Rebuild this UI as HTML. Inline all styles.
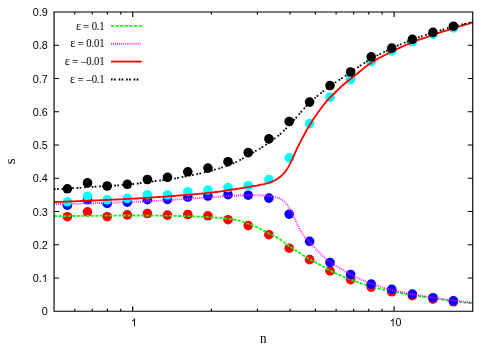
<!DOCTYPE html>
<html><head><meta charset="utf-8"><title>plot</title>
<style>
html,body{margin:0;padding:0;background:#fff;}
svg{display:block;will-change:transform;}
text{font-family:"Liberation Sans",sans-serif;fill:#000;}
.ser{font-family:"Liberation Serif",serif;}
</style></head><body>
<svg width="491" height="344" viewBox="0 0 491 344">
<rect width="491" height="344" fill="#fff"/>

<defs><clipPath id="c"><rect x="54.05" y="11.95" width="418.7" height="299.3"/></clipPath></defs>
<g clip-path="url(#c)">
<circle cx="67.4" cy="216.7" r="4.8" fill="#ff0000"/><circle cx="87.5" cy="211.8" r="4.8" fill="#ff0000"/><circle cx="107.2" cy="216.7" r="4.8" fill="#ff0000"/><circle cx="127.3" cy="214.9" r="4.8" fill="#ff0000"/><circle cx="147.4" cy="213.5" r="4.8" fill="#ff0000"/><circle cx="167.5" cy="215.1" r="4.8" fill="#ff0000"/><circle cx="187.8" cy="214.5" r="4.8" fill="#ff0000"/><circle cx="207.9" cy="215.8" r="4.8" fill="#ff0000"/><circle cx="228.0" cy="219.7" r="4.8" fill="#ff0000"/><circle cx="248.2" cy="225.6" r="4.8" fill="#ff0000"/><circle cx="268.9" cy="234.7" r="4.8" fill="#ff0000"/><circle cx="289.2" cy="248.2" r="4.8" fill="#ff0000"/><circle cx="309.6" cy="259.6" r="4.8" fill="#ff0000"/><circle cx="330.0" cy="270.9" r="4.8" fill="#ff0000"/><circle cx="350.6" cy="279.6" r="4.8" fill="#ff0000"/><circle cx="371.2" cy="287.1" r="4.8" fill="#ff0000"/><circle cx="391.8" cy="291.8" r="4.8" fill="#ff0000"/><circle cx="412.4" cy="295.7" r="4.8" fill="#ff0000"/><circle cx="433.0" cy="299.0" r="4.8" fill="#ff0000"/><circle cx="453.4" cy="301.8" r="4.8" fill="#ff0000"/>
<path d="M54.0,216.2 L55.5,216.2 L57.0,216.2 L58.5,216.1 L60.0,216.1 L61.5,216.1 L63.0,216.1 L64.5,216.1 L66.0,216.1 L67.5,216.1 L69.0,216.0 L70.5,216.0 L72.0,216.0 L73.5,216.0 L75.0,216.0 L76.5,216.0 L78.0,215.9 L79.5,215.9 L81.0,215.9 L82.5,215.9 L84.0,215.9 L85.5,215.9 L87.0,215.9 L88.5,215.8 L90.0,215.8 L91.5,215.8 L93.0,215.8 L94.5,215.8 L96.0,215.8 L97.5,215.8 L99.0,215.8 L100.5,215.7 L102.0,215.7 L103.5,215.7 L105.0,215.7 L106.5,215.7 L108.0,215.7 L109.5,215.6 L111.0,215.6 L112.5,215.6 L114.0,215.6 L115.5,215.6 L117.0,215.6 L118.5,215.6 L120.0,215.6 L121.5,215.5 L123.0,215.5 L124.5,215.5 L126.0,215.5 L127.5,215.5 L129.1,215.5 L130.6,215.5 L132.1,215.5 L133.6,215.5 L135.1,215.5 L136.6,215.5 L138.1,215.5 L139.6,215.5 L141.1,215.5 L142.6,215.5 L144.1,215.5 L145.6,215.5 L147.1,215.5 L148.6,215.6 L150.1,215.6 L151.6,215.6 L153.1,215.6 L154.6,215.6 L156.1,215.6 L157.6,215.6 L159.1,215.7 L160.6,215.7 L162.1,215.7 L163.6,215.7 L165.1,215.7 L166.6,215.8 L168.1,215.8 L169.6,215.8 L171.1,215.8 L172.6,215.9 L174.1,215.9 L175.6,215.9 L177.1,215.9 L178.6,216.0 L180.1,216.0 L181.6,216.0 L183.1,216.1 L184.6,216.1 L186.1,216.1 L187.6,216.2 L189.1,216.2 L190.6,216.2 L192.1,216.3 L193.6,216.4 L195.1,216.4 L196.6,216.5 L198.1,216.6 L199.6,216.6 L201.1,216.7 L202.6,216.8 L204.1,216.9 L205.6,217.0 L207.1,217.0 L208.6,217.1 L210.1,217.2 L211.6,217.3 L213.1,217.4 L214.6,217.5 L216.1,217.6 L217.6,217.8 L219.1,217.9 L220.6,218.0 L222.1,218.1 L223.6,218.3 L225.1,218.4 L226.6,218.6 L228.1,218.8 L229.6,219.0 L231.1,219.2 L232.6,219.4 L234.1,219.6 L235.6,219.9 L237.1,220.2 L238.6,220.6 L240.1,221.0 L241.6,221.5 L243.1,222.0 L244.6,222.5 L246.1,223.0 L247.6,223.5 L249.1,224.0 L250.6,224.6 L252.1,225.1 L253.6,225.7 L255.1,226.4 L256.6,227.0 L258.1,227.8 L259.6,228.5 L261.1,229.3 L262.6,230.1 L264.1,230.9 L265.6,231.7 L267.1,232.5 L268.6,233.3 L270.1,234.0 L271.6,234.6 L273.1,235.3 L274.6,236.1 L276.1,236.9 L277.6,237.8 L279.1,238.8 L280.6,239.8 L282.1,240.9 L283.6,242.0 L285.1,243.1 L286.6,244.2 L288.1,245.2 L289.6,246.3 L291.1,247.3 L292.6,248.3 L294.1,249.3 L295.6,250.3 L297.1,251.3 L298.6,252.3 L300.1,253.3 L301.6,254.3 L303.1,255.3 L304.6,256.2 L306.1,257.2 L307.6,258.1 L309.1,259.0 L310.6,259.8 L312.1,260.7 L313.6,261.5 L315.1,262.3 L316.6,263.1 L318.1,263.8 L319.6,264.6 L321.1,265.4 L322.6,266.2 L324.1,267.0 L325.6,267.9 L327.1,268.8 L328.6,269.8 L330.1,270.7 L331.6,271.4 L333.1,272.2 L334.6,272.9 L336.1,273.6 L337.6,274.3 L339.1,274.9 L340.6,275.5 L342.1,276.2 L343.6,276.8 L345.1,277.4 L346.6,277.9 L348.1,278.5 L349.6,279.1 L351.1,279.7 L352.6,280.2 L354.1,280.8 L355.6,281.4 L357.1,281.9 L358.6,282.5 L360.1,283.0 L361.6,283.6 L363.1,284.1 L364.6,284.6 L366.1,285.1 L367.6,285.5 L369.1,286.0 L370.6,286.4 L372.1,286.8 L373.6,287.2 L375.1,287.6 L376.6,288.0 L378.1,288.4 L379.6,288.7 L381.1,289.1 L382.6,289.4 L384.1,289.8 L385.6,290.1 L387.1,290.4 L388.6,290.7 L390.1,291.0 L391.6,291.3 L393.1,291.6 L394.6,291.9 L396.1,292.2 L397.6,292.5 L399.1,292.8 L400.6,293.0 L402.1,293.3 L403.6,293.6 L405.1,293.9 L406.6,294.1 L408.1,294.4 L409.6,294.6 L411.1,294.9 L412.6,295.1 L414.1,295.4 L415.6,295.6 L417.1,295.9 L418.6,296.1 L420.1,296.4 L421.6,296.6 L423.1,296.8 L424.6,297.0 L426.1,297.3 L427.6,297.5 L429.1,297.7 L430.6,297.9 L432.1,298.2 L433.6,298.4 L435.1,298.6 L436.6,298.8 L438.1,299.0 L439.6,299.2 L441.1,299.4 L442.6,299.6 L444.1,299.8 L445.6,300.1 L447.1,300.3 L448.6,300.5 L450.1,300.6 L451.6,300.8 L453.1,301.0 L454.6,301.2 L456.1,301.4 L457.6,301.6 L459.1,301.8 L460.6,302.0 L462.1,302.1 L463.6,302.3 L465.1,302.5 L466.6,302.7 L468.1,302.8 L469.6,303.0 L471.1,303.2 L472.6,303.3" fill="none" stroke="#00ff00" stroke-width="1.8" stroke-dasharray="3.1 1.5"/>
<circle cx="67.4" cy="205.2" r="4.8" fill="#0000ff"/><circle cx="87.5" cy="199.8" r="4.8" fill="#0000ff"/><circle cx="107.2" cy="203.4" r="4.8" fill="#0000ff"/><circle cx="127.3" cy="202.1" r="4.8" fill="#0000ff"/><circle cx="147.4" cy="199.7" r="4.8" fill="#0000ff"/><circle cx="167.5" cy="199.4" r="4.8" fill="#0000ff"/><circle cx="187.8" cy="197.0" r="4.8" fill="#0000ff"/><circle cx="207.9" cy="196.0" r="4.8" fill="#0000ff"/><circle cx="228.0" cy="194.6" r="4.8" fill="#0000ff"/><circle cx="248.2" cy="195.2" r="4.8" fill="#0000ff"/><circle cx="268.9" cy="198.1" r="4.8" fill="#0000ff"/><circle cx="289.2" cy="214.2" r="4.8" fill="#0000ff"/><circle cx="309.6" cy="241.3" r="4.8" fill="#0000ff"/><circle cx="330.0" cy="262.5" r="4.8" fill="#0000ff"/><circle cx="350.6" cy="274.5" r="4.8" fill="#0000ff"/><circle cx="371.2" cy="284.1" r="4.8" fill="#0000ff"/><circle cx="391.8" cy="289.4" r="4.8" fill="#0000ff"/><circle cx="412.4" cy="294.1" r="4.8" fill="#0000ff"/><circle cx="433.0" cy="297.7" r="4.8" fill="#0000ff"/><circle cx="453.4" cy="300.8" r="4.8" fill="#0000ff"/>
<path d="M54.0,204.2 L55.5,204.2 L57.0,204.1 L58.5,204.1 L60.0,204.1 L61.5,204.0 L63.0,204.0 L64.5,204.0 L66.0,203.9 L67.5,203.9 L69.0,203.9 L70.5,203.8 L72.0,203.8 L73.5,203.7 L75.0,203.7 L76.5,203.7 L78.0,203.6 L79.5,203.6 L81.0,203.6 L82.5,203.5 L84.0,203.5 L85.5,203.4 L87.0,203.4 L88.5,203.4 L90.0,203.3 L91.5,203.3 L93.0,203.2 L94.5,203.2 L96.0,203.1 L97.5,203.1 L99.0,203.1 L100.5,203.0 L102.0,203.0 L103.5,202.9 L105.0,202.9 L106.5,202.8 L108.0,202.8 L109.5,202.8 L111.0,202.7 L112.5,202.7 L114.0,202.6 L115.5,202.6 L117.0,202.5 L118.5,202.5 L120.0,202.4 L121.5,202.4 L123.0,202.3 L124.5,202.3 L126.0,202.2 L127.5,202.2 L129.1,202.1 L130.6,202.0 L132.1,202.0 L133.6,201.9 L135.1,201.9 L136.6,201.8 L138.1,201.7 L139.6,201.7 L141.1,201.6 L142.6,201.5 L144.1,201.4 L145.6,201.4 L147.1,201.3 L148.6,201.2 L150.1,201.1 L151.6,201.0 L153.1,201.0 L154.6,200.9 L156.1,200.8 L157.6,200.7 L159.1,200.6 L160.6,200.5 L162.1,200.4 L163.6,200.3 L165.1,200.2 L166.6,200.2 L168.1,200.1 L169.6,200.0 L171.1,199.9 L172.6,199.8 L174.1,199.7 L175.6,199.6 L177.1,199.5 L178.6,199.4 L180.1,199.3 L181.6,199.2 L183.1,199.1 L184.6,199.0 L186.1,198.9 L187.6,198.8 L189.1,198.7 L190.6,198.6 L192.1,198.5 L193.6,198.4 L195.1,198.3 L196.6,198.2 L198.1,198.1 L199.6,198.0 L201.1,197.9 L202.6,197.8 L204.1,197.7 L205.6,197.6 L207.1,197.5 L208.6,197.4 L210.1,197.3 L211.6,197.2 L213.1,197.1 L214.6,197.0 L216.1,196.9 L217.6,196.8 L219.1,196.7 L220.6,196.5 L222.1,196.4 L223.6,196.3 L225.1,196.2 L226.6,196.1 L228.1,196.0 L229.6,195.9 L231.1,195.9 L232.6,195.8 L234.1,195.7 L235.6,195.7 L237.1,195.6 L238.6,195.5 L240.1,195.5 L241.6,195.4 L243.1,195.4 L244.6,195.3 L246.1,195.2 L247.6,195.2 L249.1,195.2 L250.6,195.1 L252.1,195.1 L253.6,195.1 L255.1,195.1 L256.6,195.1 L258.1,195.2 L259.6,195.2 L261.1,195.3 L262.6,195.4 L264.1,195.5 L265.6,195.6 L267.1,195.8 L268.6,196.0 L270.1,196.2 L271.6,196.5 L273.1,196.8 L274.6,197.1 L276.1,197.4 L277.6,197.8 L279.1,198.2 L280.6,198.8 L282.1,199.7 L283.6,200.9 L285.1,202.3 L286.6,204.1 L288.1,206.2 L289.6,208.5 L291.1,211.1 L292.6,213.9 L294.1,217.1 L295.6,220.6 L297.1,223.9 L298.6,227.0 L300.1,229.9 L301.6,232.5 L303.1,234.7 L304.6,236.7 L306.1,238.5 L307.6,240.1 L309.1,241.6 L310.6,243.2 L312.1,244.9 L313.6,246.6 L315.1,248.2 L316.6,249.9 L318.1,251.4 L319.6,253.0 L321.1,254.4 L322.6,255.8 L324.1,257.2 L325.6,258.5 L327.1,259.8 L328.6,261.0 L330.1,262.1 L331.6,263.2 L333.1,264.2 L334.6,265.1 L336.1,266.1 L337.6,267.0 L339.1,267.8 L340.6,268.7 L342.1,269.6 L343.6,270.5 L345.1,271.4 L346.6,272.2 L348.1,273.1 L349.6,273.9 L351.1,274.6 L352.6,275.4 L354.1,276.1 L355.6,276.9 L357.1,277.6 L358.6,278.3 L360.1,279.0 L361.6,279.7 L363.1,280.3 L364.6,281.0 L366.1,281.6 L367.6,282.2 L369.1,282.8 L370.6,283.4 L372.1,283.9 L373.6,284.4 L375.1,285.0 L376.6,285.5 L378.1,286.0 L379.6,286.5 L381.1,286.9 L382.6,287.4 L384.1,287.9 L385.6,288.3 L387.1,288.7 L388.6,289.1 L390.1,289.5 L391.6,289.9 L393.1,290.3 L394.6,290.6 L396.1,291.0 L397.6,291.3 L399.1,291.6 L400.6,291.9 L402.1,292.2 L403.6,292.5 L405.1,292.8 L406.6,293.1 L408.1,293.4 L409.6,293.7 L411.1,293.9 L412.6,294.2 L414.1,294.5 L415.6,294.7 L417.1,295.0 L418.6,295.2 L420.1,295.5 L421.6,295.7 L423.1,295.9 L424.6,296.2 L426.1,296.4 L427.6,296.7 L429.1,296.9 L430.6,297.1 L432.1,297.4 L433.6,297.6 L435.1,297.8 L436.6,298.0 L438.1,298.3 L439.6,298.5 L441.1,298.7 L442.6,298.9 L444.1,299.2 L445.6,299.4 L447.1,299.6 L448.6,299.8 L450.1,300.0 L451.6,300.2 L453.1,300.4 L454.6,300.7 L456.1,300.9 L457.6,301.1 L459.1,301.3 L460.6,301.5 L462.1,301.6 L463.6,301.8 L465.1,302.0 L466.6,302.2 L468.1,302.4 L469.6,302.6 L471.1,302.8 L472.6,302.9" fill="none" stroke="#ff00ff" stroke-width="1.9" stroke-dasharray="0.85 1.2"/>
<circle cx="67.4" cy="201.9" r="4.8" fill="#00ffff"/><circle cx="87.5" cy="196.2" r="4.8" fill="#00ffff"/><circle cx="107.2" cy="199.9" r="4.8" fill="#00ffff"/><circle cx="127.3" cy="198.4" r="4.8" fill="#00ffff"/><circle cx="147.4" cy="194.8" r="4.8" fill="#00ffff"/><circle cx="167.5" cy="194.8" r="4.8" fill="#00ffff"/><circle cx="187.8" cy="191.7" r="4.8" fill="#00ffff"/><circle cx="207.9" cy="190.1" r="4.8" fill="#00ffff"/><circle cx="228.0" cy="187.5" r="4.8" fill="#00ffff"/><circle cx="248.2" cy="185.7" r="4.8" fill="#00ffff"/><circle cx="268.9" cy="179.6" r="4.8" fill="#00ffff"/><circle cx="289.2" cy="157.9" r="4.8" fill="#00ffff"/><circle cx="309.6" cy="123.6" r="4.8" fill="#00ffff"/><circle cx="330.0" cy="97.2" r="4.8" fill="#00ffff"/><circle cx="350.6" cy="79.5" r="4.8" fill="#00ffff"/><circle cx="371.2" cy="61.7" r="4.8" fill="#00ffff"/><circle cx="391.8" cy="50.9" r="4.8" fill="#00ffff"/><circle cx="412.4" cy="41.8" r="4.8" fill="#00ffff"/><circle cx="433.0" cy="34.3" r="4.8" fill="#00ffff"/><circle cx="453.4" cy="27.9" r="4.8" fill="#00ffff"/>
<path d="M54.0,202.1 L55.5,202.0 L57.0,202.0 L58.5,201.9 L60.0,201.9 L61.5,201.8 L63.0,201.8 L64.5,201.7 L66.0,201.6 L67.5,201.6 L69.0,201.5 L70.5,201.5 L72.0,201.4 L73.5,201.4 L75.0,201.3 L76.5,201.2 L78.0,201.2 L79.5,201.1 L81.0,201.0 L82.5,201.0 L84.0,200.9 L85.5,200.9 L87.0,200.8 L88.5,200.7 L90.0,200.7 L91.5,200.6 L93.0,200.5 L94.5,200.5 L96.0,200.4 L97.5,200.3 L99.0,200.3 L100.5,200.2 L102.0,200.1 L103.5,200.1 L105.0,200.0 L106.5,200.0 L108.0,199.9 L109.5,199.8 L111.0,199.7 L112.5,199.7 L114.0,199.6 L115.5,199.5 L117.0,199.5 L118.5,199.4 L120.0,199.3 L121.5,199.3 L123.0,199.2 L124.5,199.1 L126.0,199.0 L127.5,198.9 L129.1,198.9 L130.6,198.8 L132.1,198.7 L133.6,198.6 L135.1,198.5 L136.6,198.5 L138.1,198.4 L139.6,198.3 L141.1,198.2 L142.6,198.1 L144.1,198.0 L145.6,197.9 L147.1,197.8 L148.6,197.7 L150.1,197.6 L151.6,197.5 L153.1,197.4 L154.6,197.3 L156.1,197.2 L157.6,197.1 L159.1,197.0 L160.6,196.9 L162.1,196.8 L163.6,196.7 L165.1,196.6 L166.6,196.5 L168.1,196.4 L169.6,196.2 L171.1,196.1 L172.6,196.0 L174.1,195.9 L175.6,195.8 L177.1,195.7 L178.6,195.5 L180.1,195.4 L181.6,195.3 L183.1,195.2 L184.6,195.1 L186.1,195.0 L187.6,194.8 L189.1,194.7 L190.6,194.6 L192.1,194.5 L193.6,194.3 L195.1,194.2 L196.6,194.1 L198.1,193.9 L199.6,193.8 L201.1,193.7 L202.6,193.5 L204.1,193.4 L205.6,193.2 L207.1,193.1 L208.6,192.9 L210.1,192.7 L211.6,192.6 L213.1,192.4 L214.6,192.2 L216.1,192.0 L217.6,191.8 L219.1,191.6 L220.6,191.4 L222.1,191.2 L223.6,191.0 L225.1,190.7 L226.6,190.5 L228.1,190.2 L229.6,190.0 L231.1,189.7 L232.6,189.5 L234.1,189.3 L235.6,189.0 L237.1,188.8 L238.6,188.6 L240.1,188.3 L241.6,188.1 L243.1,187.8 L244.6,187.6 L246.1,187.4 L247.6,187.1 L249.1,186.9 L250.6,186.6 L252.1,186.4 L253.6,186.1 L255.1,185.8 L256.6,185.6 L258.1,185.3 L259.6,185.0 L261.1,184.7 L262.6,184.4 L264.1,184.1 L265.6,183.7 L267.1,183.3 L268.6,182.9 L270.1,182.4 L271.6,181.8 L273.1,181.2 L274.6,180.5 L276.1,179.6 L277.6,178.7 L279.1,177.6 L280.6,176.5 L282.1,175.2 L283.6,173.7 L285.1,171.9 L286.6,169.8 L288.1,167.4 L289.6,164.7 L291.1,161.7 L292.6,158.6 L294.1,155.2 L295.6,151.7 L297.1,148.4 L298.6,145.3 L300.1,142.3 L301.6,139.4 L303.1,136.7 L304.6,134.0 L306.1,131.3 L307.6,128.6 L309.1,126.0 L310.6,123.6 L312.1,121.2 L313.6,118.8 L315.1,116.6 L316.6,114.4 L318.1,112.3 L319.6,110.2 L321.1,108.2 L322.6,106.2 L324.1,104.2 L325.6,102.4 L327.1,100.7 L328.6,99.1 L330.1,97.6 L331.6,96.0 L333.1,94.5 L334.6,93.0 L336.1,91.5 L337.6,90.1 L339.1,88.6 L340.6,87.2 L342.1,85.8 L343.6,84.5 L345.1,83.2 L346.6,82.0 L348.1,80.8 L349.6,79.7 L351.1,78.5 L352.6,77.3 L354.1,76.1 L355.6,74.9 L357.1,73.7 L358.6,72.5 L360.1,71.3 L361.6,70.1 L363.1,68.9 L364.6,67.6 L366.1,66.5 L367.6,65.3 L369.1,64.2 L370.6,63.2 L372.1,62.2 L373.6,61.3 L375.1,60.4 L376.6,59.5 L378.1,58.6 L379.6,57.8 L381.1,57.0 L382.6,56.2 L384.1,55.4 L385.6,54.7 L387.1,53.9 L388.6,53.2 L390.1,52.4 L391.6,51.7 L393.1,50.9 L394.6,50.2 L396.1,49.5 L397.6,48.8 L399.1,48.1 L400.6,47.4 L402.1,46.7 L403.6,46.0 L405.1,45.4 L406.6,44.7 L408.1,44.1 L409.6,43.5 L411.1,42.8 L412.6,42.2 L414.1,41.6 L415.6,41.1 L417.1,40.5 L418.6,39.9 L420.1,39.4 L421.6,38.9 L423.1,38.3 L424.6,37.8 L426.1,37.3 L427.6,36.8 L429.1,36.2 L430.6,35.7 L432.1,35.2 L433.6,34.7 L435.1,34.2 L436.6,33.7 L438.1,33.2 L439.6,32.7 L441.1,32.2 L442.6,31.7 L444.1,31.2 L445.6,30.8 L447.1,30.3 L448.6,29.8 L450.1,29.3 L451.6,28.9 L453.1,28.4 L454.6,27.9 L456.1,27.4 L457.6,27.0 L459.1,26.5 L460.6,26.0 L462.1,25.6 L463.6,25.1 L465.1,24.7 L466.6,24.2 L468.1,23.8 L469.6,23.3 L471.1,22.9 L472.6,22.4" fill="none" stroke="#ff0000" stroke-width="1.8"/>
<circle cx="67.4" cy="188.8" r="4.8" fill="#000000"/><circle cx="87.5" cy="182.9" r="4.8" fill="#000000"/><circle cx="107.2" cy="186.0" r="4.8" fill="#000000"/><circle cx="127.3" cy="184.3" r="4.8" fill="#000000"/><circle cx="147.4" cy="179.5" r="4.8" fill="#000000"/><circle cx="167.5" cy="177.3" r="4.8" fill="#000000"/><circle cx="187.8" cy="171.8" r="4.8" fill="#000000"/><circle cx="207.9" cy="168.1" r="4.8" fill="#000000"/><circle cx="228.0" cy="161.7" r="4.8" fill="#000000"/><circle cx="248.2" cy="152.6" r="4.8" fill="#000000"/><circle cx="268.9" cy="138.9" r="4.8" fill="#000000"/><circle cx="289.2" cy="121.5" r="4.8" fill="#000000"/><circle cx="309.6" cy="102.1" r="4.8" fill="#000000"/><circle cx="330.0" cy="85.6" r="4.8" fill="#000000"/><circle cx="350.6" cy="72.0" r="4.8" fill="#000000"/><circle cx="371.2" cy="56.8" r="4.8" fill="#000000"/><circle cx="391.8" cy="48.1" r="4.8" fill="#000000"/><circle cx="412.4" cy="39.3" r="4.8" fill="#000000"/><circle cx="433.0" cy="32.4" r="4.8" fill="#000000"/><circle cx="453.4" cy="26.2" r="4.8" fill="#000000"/>
<path d="M54.0,189.3 L55.5,189.2 L57.0,189.1 L58.5,189.0 L60.0,189.0 L61.5,188.9 L63.0,188.8 L64.5,188.7 L66.0,188.6 L67.5,188.5 L69.0,188.4 L70.5,188.3 L72.0,188.2 L73.5,188.2 L75.0,188.1 L76.5,188.0 L78.0,187.9 L79.5,187.8 L81.0,187.7 L82.5,187.5 L84.0,187.4 L85.5,187.3 L87.0,187.2 L88.5,187.1 L90.0,187.0 L91.5,186.9 L93.0,186.8 L94.5,186.7 L96.0,186.6 L97.5,186.5 L99.0,186.4 L100.5,186.4 L102.0,186.3 L103.5,186.2 L105.0,186.1 L106.5,186.0 L108.0,185.9 L109.5,185.8 L111.0,185.8 L112.5,185.7 L114.0,185.6 L115.5,185.5 L117.0,185.4 L118.5,185.3 L120.0,185.2 L121.5,185.1 L123.0,184.9 L124.5,184.8 L126.0,184.7 L127.5,184.6 L129.1,184.5 L130.6,184.3 L132.1,184.2 L133.6,184.0 L135.1,183.9 L136.6,183.7 L138.1,183.5 L139.6,183.3 L141.1,183.0 L142.6,182.8 L144.1,182.6 L145.6,182.4 L147.1,182.1 L148.6,181.9 L150.1,181.7 L151.6,181.6 L153.1,181.4 L154.6,181.2 L156.1,181.0 L157.6,180.8 L159.1,180.6 L160.6,180.4 L162.1,180.3 L163.6,180.1 L165.1,179.9 L166.6,179.7 L168.1,179.5 L169.6,179.3 L171.1,179.1 L172.6,178.9 L174.1,178.7 L175.6,178.4 L177.1,178.1 L178.6,177.8 L180.1,177.5 L181.6,177.2 L183.1,176.9 L184.6,176.6 L186.1,176.3 L187.6,176.0 L189.1,175.7 L190.6,175.4 L192.1,175.1 L193.6,174.8 L195.1,174.5 L196.6,174.2 L198.1,173.9 L199.6,173.6 L201.1,173.3 L202.6,172.9 L204.1,172.5 L205.6,172.1 L207.1,171.7 L208.6,171.3 L210.1,170.9 L211.6,170.6 L213.1,170.2 L214.6,169.7 L216.1,169.3 L217.6,168.9 L219.1,168.5 L220.6,168.0 L222.1,167.5 L223.6,167.0 L225.1,166.5 L226.6,165.9 L228.1,165.4 L229.6,164.8 L231.1,164.2 L232.6,163.6 L234.1,162.9 L235.6,162.3 L237.1,161.6 L238.6,160.8 L240.1,160.0 L241.6,159.2 L243.1,158.3 L244.6,157.5 L246.1,156.6 L247.6,155.7 L249.1,154.9 L250.6,154.0 L252.1,153.1 L253.6,152.2 L255.1,151.3 L256.6,150.4 L258.1,149.5 L259.6,148.7 L261.1,147.8 L262.6,146.9 L264.1,145.9 L265.6,144.9 L267.1,144.0 L268.6,142.9 L270.1,141.9 L271.6,140.8 L273.1,139.8 L274.6,138.6 L276.1,137.5 L277.6,136.3 L279.1,135.0 L280.6,133.7 L282.1,132.4 L283.6,131.0 L285.1,129.5 L286.6,128.0 L288.1,126.5 L289.6,124.9 L291.1,123.2 L292.6,121.6 L294.1,119.9 L295.6,118.2 L297.1,116.6 L298.6,114.9 L300.1,113.1 L301.6,111.4 L303.1,109.7 L304.6,108.0 L306.1,106.3 L307.6,104.7 L309.1,103.2 L310.6,101.8 L312.1,100.5 L313.6,99.1 L315.1,97.9 L316.6,96.6 L318.1,95.4 L319.6,94.2 L321.1,93.0 L322.6,91.9 L324.1,90.7 L325.6,89.6 L327.1,88.5 L328.6,87.4 L330.1,86.3 L331.6,85.2 L333.1,84.1 L334.6,83.0 L336.1,82.0 L337.6,81.0 L339.1,80.0 L340.6,79.0 L342.1,78.0 L343.6,77.0 L345.1,76.0 L346.6,75.0 L348.1,74.0 L349.6,73.0 L351.1,72.0 L352.6,71.0 L354.1,70.0 L355.6,68.9 L357.1,67.9 L358.6,66.9 L360.1,65.8 L361.6,64.8 L363.1,63.8 L364.6,62.8 L366.1,61.9 L367.6,60.9 L369.1,60.0 L370.6,59.1 L372.1,58.3 L373.6,57.4 L375.1,56.6 L376.6,55.8 L378.1,55.0 L379.6,54.2 L381.1,53.5 L382.6,52.7 L384.1,52.0 L385.6,51.3 L387.1,50.6 L388.6,49.9 L390.1,49.2 L391.6,48.5 L393.1,47.8 L394.6,47.1 L396.1,46.4 L397.6,45.7 L399.1,45.1 L400.6,44.4 L402.1,43.8 L403.6,43.1 L405.1,42.5 L406.6,41.9 L408.1,41.3 L409.6,40.7 L411.1,40.1 L412.6,39.5 L414.1,39.0 L415.6,38.4 L417.1,37.9 L418.6,37.4 L420.1,36.9 L421.6,36.4 L423.1,35.9 L424.6,35.4 L426.1,34.9 L427.6,34.4 L429.1,33.9 L430.6,33.5 L432.1,33.0 L433.6,32.5 L435.1,32.1 L436.6,31.6 L438.1,31.1 L439.6,30.7 L441.1,30.2 L442.6,29.8 L444.1,29.3 L445.6,28.9 L447.1,28.4 L448.6,28.0 L450.1,27.6 L451.6,27.2 L453.1,26.8 L454.6,26.4 L456.1,26.0 L457.6,25.6 L459.1,25.2 L460.6,24.8 L462.1,24.5 L463.6,24.1 L465.1,23.8 L466.6,23.4 L468.1,23.1 L469.6,22.7 L471.1,22.4 L472.6,22.1" fill="none" stroke="#000" stroke-width="1.8" stroke-dasharray="1.7 1.3 1.7 2.85"/>
</g>
<path d="M54.05,11.95H472.75V311.25H54.05Z M54.05,277.99h5 M472.75,277.99h-5 M54.05,244.74h5 M472.75,244.74h-5 M54.05,211.48h5 M472.75,211.48h-5 M54.05,178.23h5 M472.75,178.23h-5 M54.05,144.97h5 M472.75,144.97h-5 M54.05,111.72h5 M472.75,111.72h-5 M54.05,78.46h5 M472.75,78.46h-5 M54.05,45.21h5 M472.75,45.21h-5 M132.72,311.25v-5 M132.72,11.95v5 M394.08,311.25v-5 M394.08,11.95v5 M74.74,311.25v-2.5 M74.74,11.95v2.5 M92.24,311.25v-2.5 M92.24,11.95v2.5 M107.40,311.25v-2.5 M107.40,11.95v2.5 M120.77,311.25v-2.5 M120.77,11.95v2.5 M211.40,311.25v-2.5 M211.40,11.95v2.5 M257.42,311.25v-2.5 M257.42,11.95v2.5 M290.07,311.25v-2.5 M290.07,11.95v2.5 M315.40,311.25v-2.5 M315.40,11.95v2.5 M336.10,311.25v-2.5 M336.10,11.95v2.5 M353.59,311.25v-2.5 M353.59,11.95v2.5 M368.75,311.25v-2.5 M368.75,11.95v2.5 M382.12,311.25v-2.5 M382.12,11.95v2.5" fill="none" stroke="#000" stroke-width="1.15"/>
<text x="47.8" y="315.4" font-size="10.8" text-anchor="end">0</text>
<text x="41.80" y="282.1" font-size="10.8" text-anchor="end">0.</text>
<path d="M763 0H583V1147Q518 1085 412 1023Q307 961 223 930V1104Q374 1175 487 1276Q600 1377 647 1472H763Z" transform="translate(41.80,282.09) scale(0.00519,-0.00519)" fill="#000"/>
<text x="47.8" y="248.8" font-size="10.8" text-anchor="end">0.2</text>
<text x="47.8" y="215.6" font-size="10.8" text-anchor="end">0.3</text>
<text x="47.8" y="182.3" font-size="10.8" text-anchor="end">0.4</text>
<text x="47.8" y="149.1" font-size="10.8" text-anchor="end">0.5</text>
<text x="47.8" y="115.8" font-size="10.8" text-anchor="end">0.6</text>
<text x="47.8" y="82.6" font-size="10.8" text-anchor="end">0.7</text>
<text x="47.8" y="49.3" font-size="10.8" text-anchor="end">0.8</text>
<text x="47.8" y="16.0" font-size="10.8" text-anchor="end">0.9</text>
<path d="M763 0H583V1147Q518 1085 412 1023Q307 961 223 930V1104Q374 1175 487 1276Q600 1377 647 1472H763Z" transform="translate(131.00,326.20) scale(0.00519,-0.00519)" fill="#000"/>
<path d="M763 0H583V1147Q518 1085 412 1023Q307 961 223 930V1104Q374 1175 487 1276Q600 1377 647 1472H763Z" transform="translate(389.60,326.20) scale(0.00519,-0.00519)" fill="#000"/>
<text x="395.60" y="326.2" font-size="10.8">0</text>
<text class="ser" transform="translate(263.3,343.0) scale(0.9,1)" font-size="14.6" text-anchor="middle">n</text>
<text class="ser" transform="translate(15.1,161.4) rotate(-90)" font-size="15" text-anchor="middle">s</text>
<text class="ser" transform="translate(104.7,29.8) scale(1,1.1)" dx="0 0 0 -0.25 -0.25" dy="0.8 -0.8 0 0 0" font-size="10.8" word-spacing="-0.1" text-anchor="end">= 0.1</text>
<text class="ser" transform="translate(81.1,29.8) scale(1.12,1.1)" font-size="11" text-anchor="end">ε</text>
<text class="ser" transform="translate(104.7,47.0) scale(1,1.1)" dx="0 0 0 -0.25 -0.25 0" dy="0.8 -0.8 0 0 0 0" font-size="10.8" word-spacing="-0.1" text-anchor="end">= 0.01</text>
<text class="ser" transform="translate(75.5,47.0) scale(1.12,1.1)" font-size="11" text-anchor="end">ε</text>
<text class="ser" transform="translate(104.7,65.0) scale(1,1.1)" dx="0 0 0 0 -0.25 -0.25 0" dy="0.8 -0.8 0 0 0 0 0" font-size="10.8" word-spacing="-0.1" text-anchor="end">= –0.01</text>
<text class="ser" transform="translate(69.95,65.0) scale(1.12,1.1)" font-size="11" text-anchor="end">ε</text>
<text class="ser" transform="translate(104.7,83.0) scale(1,1.1)" dx="0 0 0 0 -0.25 -0.25" dy="0.8 -0.8 0 0 0 0" font-size="10.8" word-spacing="-0.1" text-anchor="end">= –0.1</text>
<text class="ser" transform="translate(75.05,83.0) scale(1.12,1.1)" font-size="11" text-anchor="end">ε</text>
<path d="M111,25.9H142" stroke="#00ff00" stroke-width="1.8" stroke-dasharray="3.1 1.5" fill="none"/>
<path d="M111,43.7H140.9" stroke="#ff00ff" stroke-width="1.9" stroke-dasharray="0.85 1.2" fill="none"/>
<path d="M111,61.6H141.8" stroke="#ff0000" stroke-width="1.8" fill="none"/>
<path d="M111,79.5H138.5" stroke="#000" stroke-width="1.8" stroke-dasharray="1.7 1.3 1.7 2.85" fill="none"/>
</svg></body></html>
